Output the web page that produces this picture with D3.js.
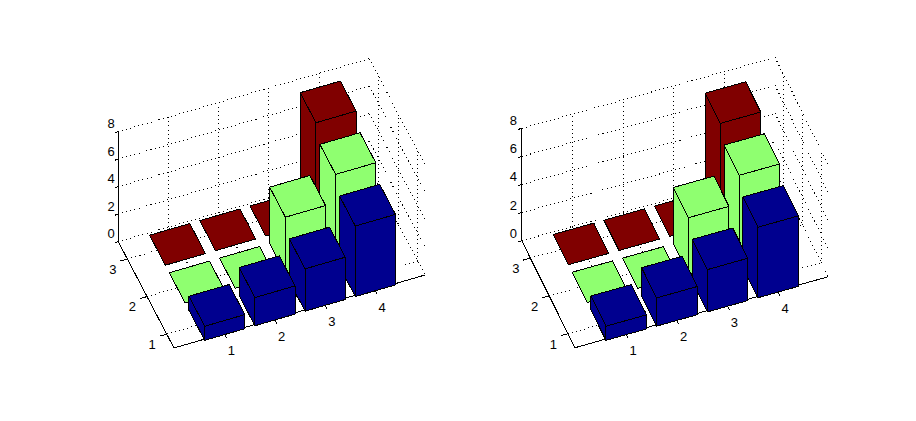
<!DOCTYPE html>
<html>
<head>
<meta charset="utf-8">
<script src="https://cdn.jsdelivr.net/npm/d3@7/dist/d3.min.js"></script>
<style>
html,body{margin:0;padding:0;background:#fff;}
svg{display:block;}
text{font-family:"Liberation Sans",Arial,sans-serif;font-size:13px;fill:#000;}
line,polygon{shape-rendering:crispEdges;}
</style>
</head>
<body>
<svg id="chart" width="916" height="421"></svg>
<script>
// Data
const xTicks = [1, 2, 3, 4];
const yTicks = [1, 2, 3];
const zTicks = [0, 2, 4, 6, 8];
const row1 = [1, 2, 3, 5];   // y = 1 (blue)
const row2 = [0, 0, 4, 6];   // y = 2 (green)
const row3 = [0, 0, 0, 7];   // y = 3 (red)
const rowColors = ["#00008F", "#8FFF70", "#800000"];
const xDomain = [0, 5];
const yDomain = [0.63, 3.46];
const zDomain = [0, 8];
const barWidth = 0.8;

// View geometry for the two panels
const panels = [
  {front:[174,348], right:[425,275], left:[118.3,241.7], zLen:110,   barZ:112.8,
   lx:[7.2,17.4], ly:[-14.6,10.4], lz:[-7.3,-8]},
  {front:[575,347.7], right:[828.3,276.7], left:[521.7,240.7], zLen:112.3, barZ:112.8,
   lx:[7.4,17.4], ly:[-14.6,10.4], lz:[-8.4,-7.6]}
];

const svg = d3.select("#chart");
const rows = [row1, row2, row3];

panels.forEach(p => {
  const g = svg.append("g");
  const xX = d3.scaleLinear().domain(xDomain).range([0, p.right[0]-p.front[0]]);
  const xY = d3.scaleLinear().domain(xDomain).range([0, p.right[1]-p.front[1]]);
  const yX = d3.scaleLinear().domain(yDomain).range([0, p.left[0]-p.front[0]]);
  const yY = d3.scaleLinear().domain(yDomain).range([0, p.left[1]-p.front[1]]);
  const zAxis = d3.scaleLinear().domain(zDomain).range([0, p.zLen]);
  const zBar = d3.scaleLinear().domain(zDomain).range([0, p.barZ]);
  const pr = (x,y,z,zs=zAxis) => [p.front[0]+xX(x)+yX(y), p.front[1]+xY(x)+yY(y)-zs(z)];

  const [x0,x1] = xDomain, [y0,y1] = yDomain, zTop = zDomain[1];
  const dotted = [];
  zTicks.forEach(z => {
    dotted.push([pr(x0,y1,z), pr(x1,y1,z)]);
    dotted.push([pr(x1,y1,z), pr(x1,y0,z)]);
  });
  xTicks.forEach(x => {
    dotted.push([pr(x,y1,0), pr(x,y1,zTop)]);
    dotted.push([pr(x,y0,0), pr(x,y1,0)]);
  });
  yTicks.forEach(y => {
    dotted.push([pr(x1,y,0), pr(x1,y,zTop)]);
    dotted.push([pr(x0,y,0), pr(x1,y,0)]);
  });
  g.append("g").selectAll("line").data(dotted).join("line")
    .attr("x1",d=>d[0][0]).attr("y1",d=>d[0][1])
    .attr("x2",d=>d[1][0]).attr("y2",d=>d[1][1])
    .attr("stroke","#000").attr("stroke-width",1)
    .attr("stroke-dasharray","1 3.2");

  const solid = [
    [pr(x0,y0,0), pr(x1,y0,0)],
    [pr(x0,y0,0), pr(x0,y1,0)],
    [pr(x0,y1,0), pr(x0,y1,zTop)]
  ];
  xTicks.forEach(x => solid.push([pr(x,y0,0), pr(x,y0-0.13,0)]));
  yTicks.forEach(y => solid.push([pr(x0,y,0), pr(x0-0.14,y,0)]));
  zTicks.forEach(z => solid.push([pr(x0,y1,z), pr(x0-0.07,y1,z)]));
  g.append("g").selectAll("line").data(solid).join("line")
    .attr("x1",d=>d[0][0]).attr("y1",d=>d[0][1])
    .attr("x2",d=>d[1][0]).attr("y2",d=>d[1][1])
    .attr("stroke","#000").attr("stroke-width",1);

  // Bars: painted back to front
  const faces = [];
  for (let r = rows.length-1; r >= 0; r--) {
    for (let c = xTicks.length-1; c >= 0; c--) {
      const h = rows[r][c];
      const a = xTicks[c]-barWidth/2, b = xTicks[c]+barWidth/2;
      const s = yTicks[r]-barWidth/2, t = yTicks[r]+barWidth/2;
      const q = (x,y,z) => pr(x,y,z,zBar);
      const col = rowColors[r];
      if (h > 0) {
        faces.push({col, pts:[q(a,s,0),q(a,t,0),q(a,t,h),q(a,s,h)]});
        faces.push({col, pts:[q(a,s,0),q(b,s,0),q(b,s,h),q(a,s,h)]});
      }
      faces.push({col, pts:[q(a,s,h),q(b,s,h),q(b,t,h),q(a,t,h)]});
    }
  }
  g.append("g").selectAll("polygon").data(faces).join("polygon")
    .attr("points",d=>d.pts.map(v=>v.join(",")).join(" "))
    .attr("fill",d=>d.col)
    .attr("stroke","#000").attr("stroke-width",1)
    .attr("stroke-linejoin","round");

  // Tick labels
  const labels = [];
  xTicks.forEach(x => { const v=pr(x,y0,0); labels.push({t:x,x:v[0]+p.lx[0],y:v[1]+p.lx[1]}); });
  yTicks.forEach(y => { const v=pr(x0,y,0); labels.push({t:y,x:v[0]+p.ly[0],y:v[1]+p.ly[1]}); });
  zTicks.forEach(z => { const v=pr(x0,y1,z); labels.push({t:z,x:v[0]+p.lz[0],y:v[1]+p.lz[1]}); });
  g.append("g").selectAll("text").data(labels).join("text")
    .attr("x",d=>d.x).attr("y",d=>d.y)
    .attr("text-anchor","middle").attr("dominant-baseline","central")
    .text(d=>d.t);
});
</script>
</body>
</html>
